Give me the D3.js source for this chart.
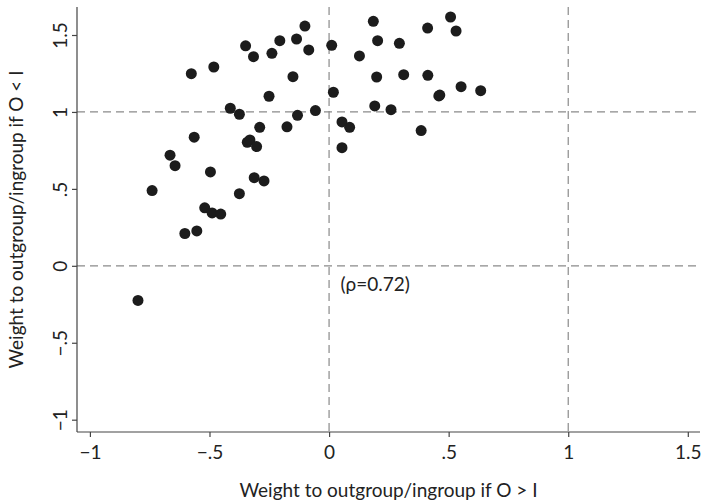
<!DOCTYPE html>
<html>
<head>
<meta charset="utf-8">
<script src="https://cdn.jsdelivr.net/npm/d3@7"></script>
<style>
  body { margin: 0; background: #fff; }
  svg text { font-family: Lato, "Open Sans", sans-serif; fill: #222; }
</style>
</head>
<body>
<svg id="chart" width="704" height="504"></svg>
<script>
// weight to outgroup/ingroup, one point per subject
const xVals = [
  -0.101, -0.349, -0.206, -0.136, -0.085, -0.316, -0.239, 0.011, -0.576, -0.482,
  -0.151, -0.251, 0.018, -0.413, -0.375, -0.057, -0.132, -0.290, -0.176, 0.054,
  0.086, -0.564, -0.342, -0.331, -0.303, 0.054, -0.665, -0.644, -0.496, -0.313,
  -0.272, -0.740, -0.375, -0.520, -0.489, -0.453, -0.603, -0.553, -0.799, 0.185,
  0.508, 0.412, 0.531, 0.203, 0.294, 0.127, 0.199, 0.312, 0.413, 0.552,
  0.634, 0.459, 0.463, 0.191, 0.259, 0.385
];
const yVals = [
  1.558, 1.430, 1.463, 1.474, 1.403, 1.359, 1.381, 1.433, 1.249, 1.292,
  1.229, 1.102, 1.128, 1.024, 0.985, 1.009, 0.978, 0.900, 0.903, 0.935,
  0.900, 0.836, 0.803, 0.818, 0.775, 0.768, 0.719, 0.651, 0.610, 0.573,
  0.552, 0.489, 0.469, 0.377, 0.344, 0.336, 0.210, 0.227, -0.225, 1.589,
  1.617, 1.545, 1.526, 1.463, 1.446, 1.364, 1.227, 1.242, 1.238, 1.164,
  1.138, 1.104, 1.110, 1.039, 1.015, 0.879
];
const xTicks = [-1, -0.5, 0, 0.5, 1, 1.5];
const yTicks = [-1, -0.5, 0, 0.5, 1, 1.5];
const refX = [0, 1];
const refY = [0, 1];
const rhoLabel = "(ρ=0.72)";

const points = xVals.map((x, i) => ({x: x, y: yVals[i]}));

const margin = {top: 7, right: 4, bottom: 72, left: 77};
const width = 704, height = 504;
const fontSize = 19;

const svg = d3.select("svg#chart");

const x = d3.scaleLinear()
    .domain([-1.054, 1.551])
    .range([margin.left, width - margin.right]);

const y = d3.scaleLinear()
    .domain([-1.08, 1.682])
    .range([height - margin.bottom, margin.top]);

// tick label format like stata: .5, -.5
const fmt = d => d === 0 ? "0" : String(d).replace("0.", ".").replace("-", "\u2212");

// reference lines
const refs = svg.append("g").attr("class", "refs")
    .attr("stroke", "#8a8a8a")
    .attr("stroke-width", 1.2)
    .attr("stroke-dasharray", "8,5");

refs.selectAll("line.h")
    .data(refY)
    .enter()
    .append("line")
    .attr("class", "h")
    .attr("x1", margin.left)
    .attr("x2", width - margin.right)
    .attr("y1", d => y(d))
    .attr("y2", d => y(d));

refs.selectAll("line.v")
    .data(refX)
    .enter()
    .append("line")
    .attr("class", "v")
    .attr("y1", margin.top)
    .attr("y2", height - margin.bottom)
    .attr("x1", d => x(d))
    .attr("x2", d => x(d));

// axes
const xAxis = svg.append("g")
    .attr("transform", `translate(0,${height - margin.bottom})`)
    .call(d3.axisBottom(x).tickValues(xTicks).tickFormat(fmt).tickSize(5).tickPadding(9))
    .call(g => g.select(".domain").attr("d", `M${margin.left},0H${width - margin.right}`));

const yAxis = svg.append("g")
    .attr("transform", `translate(${margin.left},0)`)
    .call(d3.axisLeft(y).tickValues(yTicks).tickFormat(fmt).tickSize(5).tickPadding(7))
    .call(g => g.select(".domain").attr("d", `M0,${margin.top}V${height - margin.bottom}`));

svg.selectAll(".domain, .tick line")
    .attr("stroke", "#444")
    .attr("stroke-width", 1.2);

xAxis.selectAll(".tick text")
    .attr("font-size", fontSize)
    .attr("dy", "0.71em");

yAxis.selectAll(".tick text")
    .attr("font-size", fontSize)
    .attr("text-anchor", "middle")
    .attr("transform", "rotate(-90)")
    .attr("x", 0)
    .attr("y", -10)
    .attr("dy", 0);

// points
svg.append("g").attr("class", "points")
    .selectAll("circle")
    .data(points)
    .enter()
    .append("circle")
    .attr("cx", d => x(d.x))
    .attr("cy", d => y(d.y))
    .attr("r", 5.5)
    .attr("fill", "#1c1c1c");

// correlation label
svg.append("text")
    .attr("x", x(0.048))
    .attr("y", y(-0.13))
    .attr("dominant-baseline", "middle")
    .attr("font-size", fontSize)
    .text(rhoLabel);

// axis titles
svg.append("text")
    .attr("x", (margin.left + width - margin.right) / 2)
    .attr("y", 497)
    .attr("text-anchor", "middle")
    .attr("font-size", fontSize)
    .text("Weight to outgroup/ingroup if O > I");

svg.append("text")
    .attr("transform", `translate(23,${(margin.top + height - margin.bottom) / 2}) rotate(-90)`)
    .attr("text-anchor", "middle")
    .attr("font-size", fontSize)
    .text("Weight to outgroup/ingroup if O < I");
</script>
</body>
</html>
